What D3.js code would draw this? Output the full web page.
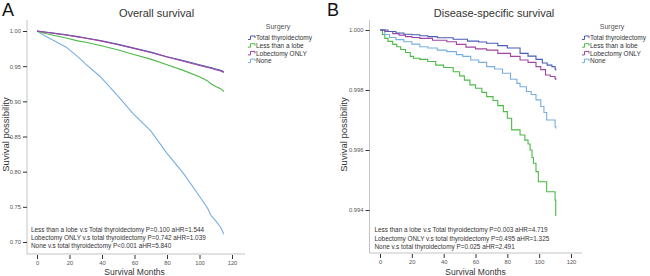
<!DOCTYPE html>
<html><head><meta charset="utf-8">
<script src="https://cdn.jsdelivr.net/npm/d3@7"></script>
<style>body{margin:0;background:#fff}svg{display:block;font-family:"Liberation Sans",Arial,sans-serif}</style>
</head><body>
<svg id="c" width="650" height="276"></svg>
<script>
// ---------- data ----------
const seriesNames = ["Total thyroidectomy", "Less than a lobe", "Lobectomy ONLY", "None"];
const seriesColors = ["#4a5cb5", "#4cba48", "#a046a2", "#78aee0"];

// Panel A: Overall survival
const aMonths = [0, 5, 10, 18, 25, 30, 39, 50, 59, 70, 80, 90, 100, 105, 107, 110, 113, 115];
const aTotal  = [1.000, 0.9985, 0.997, 0.9945, 0.992, 0.990, 0.9865, 0.981, 0.976, 0.970, 0.9635, 0.958, 0.952, 0.949, 0.948, 0.946, 0.944, 0.942];
const aLess   = [1.000, 0.9965, 0.994, 0.990, 0.986, 0.984, 0.9795, 0.973, 0.967, 0.960, 0.952, 0.944, 0.935, 0.929, 0.925, 0.921, 0.918, 0.914];
const aLobe   = [1.000, 0.9983, 0.9967, 0.9942, 0.9917, 0.9897, 0.9860, 0.9805, 0.9755, 0.9695, 0.963, 0.957, 0.951, 0.948, 0.947, 0.945, 0.943, 0.941];
const aNone   = [1.000, 0.993, 0.987, 0.977, 0.9635, 0.953, 0.935, 0.907, 0.883, 0.858, 0.826, 0.798, 0.765, 0.748, 0.738, 0.730, 0.721, 0.711];
const aYTicks = [0.70, 0.75, 0.80, 0.85, 0.90, 0.95, 1.00];
const aNotes = ["Less than a lobe v.s Total thyroidectomy P=0.100 aHR=1.544",
                "Lobectomy ONLY v.s total thyroidectomy  P=0.742 aHR=1.039",
                "None v.s total thyroidectomy  P<0.001 aHR=5.840"];

// Panel B: Disease-specific survival (step functions)
const bTotalM = [0, 5, 10, 15, 20, 25, 30, 36, 46, 55, 62, 67, 74, 80, 88, 93, 98, 102, 105, 108, 110, 110.4];
const bTotalV = [1.0, 0.99995, 0.9999, 0.99986, 0.99984, 0.99981, 0.99978, 0.99974, 0.99969, 0.99963, 0.9996, 0.99956, 0.99948, 0.9994, 0.99922, 0.99913, 0.99902, 0.9989, 0.99883, 0.99878, 0.9987, 0.99865];
const bLessM = [0, 1.5, 3, 5, 8, 10.5, 13, 16, 19, 21, 25, 30, 35, 40, 46, 50, 53, 56.5, 60, 64, 67, 71, 74, 77.5, 80, 82.7, 88, 91, 93, 94.3, 95.5, 96.4, 98, 99.5, 104.7, 110, 110.4];
const bLessV = [1.0, 0.99985, 0.99972, 0.99962, 0.99952, 0.99944, 0.99935, 0.99925, 0.99912, 0.99906, 0.99902, 0.99895, 0.99883, 0.99875, 0.99861, 0.99847, 0.99833, 0.99817, 0.99806, 0.99792, 0.99778, 0.99765, 0.99748, 0.99728, 0.99706, 0.99667, 0.9965, 0.99633, 0.9962, 0.996, 0.99575, 0.99556, 0.99528, 0.99494, 0.99461, 0.99433, 0.9938];
const bLobeM = [0, 3, 8, 12, 16, 20, 25, 33, 42, 48, 54, 60, 67, 74, 82, 88, 93, 98, 101, 104, 107, 110, 110.4];
const bLobeV = [1.0, 0.99995, 0.99988, 0.99983, 0.99978, 0.99975, 0.99972, 0.99966, 0.99961, 0.99952, 0.99943, 0.99937, 0.99933, 0.99922, 0.99912, 0.999, 0.99892, 0.99878, 0.99868, 0.9985, 0.99845, 0.99838, 0.99833];
const bNoneM = [0, 3, 6, 10, 15, 20, 25, 30, 36, 42, 48, 52, 57, 62, 67, 72, 77, 82, 86, 88, 92, 95, 98, 101, 103, 104.7, 110, 110.4];
const bNoneV = [1.0, 0.99985, 0.99975, 0.99968, 0.99961, 0.99953, 0.99944, 0.9994, 0.99933, 0.99928, 0.99918, 0.99912, 0.999, 0.99892, 0.99878, 0.9987, 0.99856, 0.99836, 0.99822, 0.99811, 0.99795, 0.99785, 0.99767, 0.99745, 0.99725, 0.997, 0.99678, 0.99672];
const bYTicks = [0.994, 0.996, 0.998, 1.000];
const bNotes = ["Less than a lobe v.s Total thyroidectomy P=0.003 aHR=4.719",
                "Lobectomy ONLY v.s total thyroidectomy  P=0.495 aHR=1.325",
                "None v.s total thyroidectomy  P=0.025 aHR=2.491"];

const xTicks = [0, 20, 40, 60, 80, 100, 120];

// ---------- drawing ----------
const svg = d3.select("#c");

function panel(cfg) {
  const g = svg.append("g");
  const x = d3.scaleLinear().domain([0, 120]).range(cfg.xr);
  const y = d3.scaleLinear().domain(cfg.yd).range(cfg.yr);

  // panel letter & title
  g.append("text").attr("x", cfg.letterX).attr("y", 16).attr("font-size", 18).attr("fill", "#111").text(cfg.letter);
  g.append("text").attr("x", cfg.titleX).attr("y", 17).attr("text-anchor", "middle").attr("font-size", 11).attr("fill", "#333").text(cfg.title);

  // axis lines
  g.append("line").attr("x1", cfg.ax).attr("x2", cfg.ax).attr("y1", 20).attr("y2", cfg.ay).attr("stroke", "#c4c4c4").attr("stroke-width", 1);
  g.append("line").attr("x1", cfg.ax).attr("x2", cfg.axEnd).attr("y1", cfg.ay).attr("y2", cfg.ay).attr("stroke", "#c4c4c4").attr("stroke-width", 1);

  // y axis ticks
  const ya = d3.axisLeft(y).tickValues(cfg.yTicks).tickFormat(d3.format(cfg.yFmt)).tickSize(4).tickPadding(2);
  const yg = g.append("g").attr("transform", `translate(${cfg.ax},0)`).call(ya);
  yg.select(".domain").remove();
  yg.selectAll("line").attr("stroke", "#333");
  yg.selectAll("text").attr("font-size", 5.8).attr("fill", "#555").attr("font-family", "Liberation Sans, Arial, sans-serif");

  // x axis ticks
  const xa = d3.axisBottom(x).tickValues(xTicks).tickFormat(d3.format("d")).tickSize(4).tickPadding(2);
  const xg = g.append("g").attr("transform", `translate(0,${cfg.ay + 1})`).call(xa);
  xg.select(".domain").remove();
  xg.selectAll("line").attr("stroke", "#333");
  xg.selectAll("text").attr("font-size", 5.8).attr("fill", "#555").attr("font-family", "Liberation Sans, Arial, sans-serif");

  // axis labels
  g.append("text").attr("x", (cfg.xr[0] + cfg.xr[1]) / 2).attr("y", 274.5).attr("text-anchor", "middle")
    .attr("font-size", 8.5).attr("fill", "#333").text("Survival Months");
  g.append("text").attr("transform", `translate(${cfg.ylabX},134.5) rotate(-90)`).attr("text-anchor", "middle")
    .attr("font-size", 9.5).attr("fill", "#333").text("Suvival possibility");

  // curves
  const line = d3.line().x(d => x(d[0])).y(d => y(d[1])).curve(cfg.curve);
  cfg.series.forEach((s, i) => {
    const pts = s.m.map((m, k) => [m, s.v[k]]);
    g.append("path").datum(pts).attr("d", line).attr("fill", "none")
      .attr("stroke", seriesColors[s.ci]).attr("stroke-width", 1.1);
  });

  // notes
  cfg.notes.forEach((t, i) => {
    g.append("text").attr("x", cfg.noteX).attr("y", cfg.noteY[i]).attr("font-size", 6.4).attr("fill", "#333").text(t);
  });

  // legend
  const lg = g.append("g").attr("transform", `translate(${cfg.legX},0)`);
  lg.append("text").attr("x", 30).attr("y", 29).attr("text-anchor", "middle").attr("font-size", 7).attr("fill", "#555").text("Surgery");
  seriesNames.forEach((n, i) => {
    const yy = 38 + i * 7.7;
    lg.append("path").attr("d", `M0,${yy + 1.5}H2.5V${yy - 2}H7V${yy}`).attr("fill", "none")
      .attr("stroke", seriesColors[i]).attr("stroke-width", 1);
    lg.append("text").attr("x", 8).attr("y", yy + 2.3).attr("font-size", 6.5).attr("fill", "#333").text(n);
  });
}

panel({
  letter: "A", letterX: 2, title: "Overall survival", titleX: 156.5,
  xr: [37, 232], yd: [0.70, 1.00], yr: [242, 31], yTicks: aYTicks, yFmt: ".2f",
  ax: 27, ay: 254, axEnd: 245, ylabX: 8.5,
  curve: d3.curveLinear,
  series: [
    {m: aMonths, v: aNone, ci: 3},
    {m: aMonths, v: aLess, ci: 1},
    {m: aMonths, v: aTotal, ci: 0},
    {m: aMonths, v: aLobe, ci: 2}
  ],
  notes: aNotes, noteX: 31, noteY: [232, 239.5, 248],
  legX: 248
});

panel({
  letter: "B", letterX: 327, title: "Disease-specific survival", titleX: 494,
  xr: [380, 571], yd: [0.994, 1.000], yr: [210, 30], yTicks: bYTicks, yFmt: ".3f",
  ax: 369.5, ay: 253, axEnd: 582, ylabX: 346.5,
  curve: d3.curveStepAfter,
  series: [
    {m: bLessM, v: bLessV, ci: 1},
    {m: bNoneM, v: bNoneV, ci: 3},
    {m: bLobeM, v: bLobeV, ci: 2},
    {m: bTotalM, v: bTotalV, ci: 0}
  ],
  notes: bNotes, noteX: 374.5, noteY: [231.5, 241, 248.5],
  legX: 582
});
</script>
</body></html>
